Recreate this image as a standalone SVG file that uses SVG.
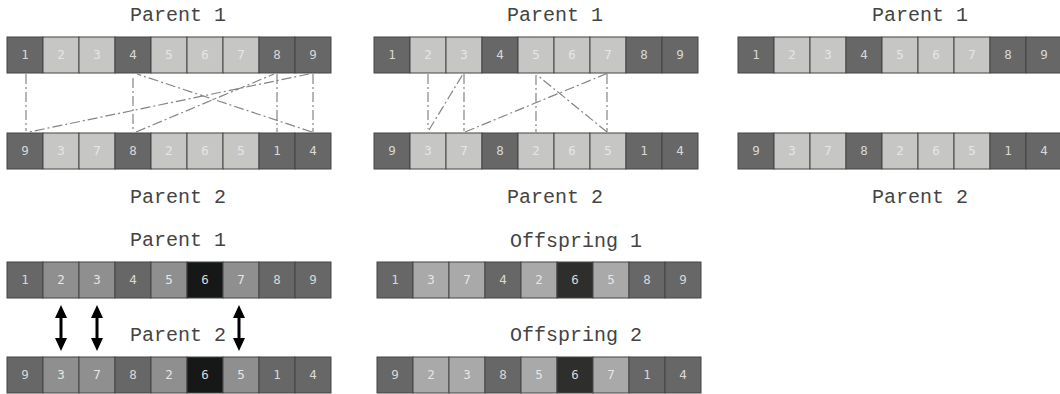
<svg xmlns="http://www.w3.org/2000/svg" width="1060" height="394" viewBox="0 0 1060 394">
<defs>
<style>
.t{font-family:"Liberation Mono","Courier New",monospace;font-size:20px;fill:#444;text-anchor:middle}
.n{font-family:"DejaVu Sans Mono",monospace;font-size:12.5px;text-anchor:middle}
.d{fill:#676767}.l{fill:#c6c7c5}.m{fill:#8f8f8f}.k{fill:#161817}.o{fill:#a9a9a9}.ok{fill:#2e2e2c}
.c rect{stroke:#444;stroke-width:1}
.nd{fill:#d8d8d8}.nl{fill:#e6e6e6}
.cn line{stroke:#858585;stroke-width:1.2;stroke-dasharray:10 3 2 3;fill:none}
.ar{fill:#000;stroke:none}
</style>
<path id="dbl" d="M0,-23 L6,-10 L1.5,-10 L1.5,10 L6,10 L0,23 L-6,10 L-1.5,10 L-1.5,-10 L-6,-10 z"/>
</defs>
<rect width="1060" height="394" fill="#fff"/>

<!-- Panel 1 -->
<g id="p1-parent1">
<text class="t" x="178" y="21">Parent 1</text>
<g class="c">
<rect class="d" x="7" y="37" width="36" height="36"/><rect class="l" x="43" y="37" width="36" height="36"/><rect class="l" x="79" y="37" width="36" height="36"/><rect class="d" x="115" y="37" width="36" height="36"/><rect class="l" x="151" y="37" width="36" height="36"/><rect class="l" x="187" y="37" width="36" height="36"/><rect class="l" x="223" y="37" width="36" height="36"/><rect class="d" x="259" y="37" width="36" height="36"/><rect class="d" x="295" y="37" width="36" height="36"/>
</g>
<text class="n nd" x="25" y="59">1</text><text class="n nl" x="61" y="59">2</text><text class="n nl" x="97" y="59">3</text><text class="n nd" x="133" y="59">4</text><text class="n nl" x="169" y="59">5</text><text class="n nl" x="205" y="59">6</text><text class="n nl" x="241" y="59">7</text><text class="n nd" x="277" y="59">8</text><text class="n nd" x="313" y="59">9</text>
</g>
<g id="p1-parent2">
<g class="c">
<rect class="d" x="7" y="133" width="36" height="36"/><rect class="l" x="43" y="133" width="36" height="36"/><rect class="l" x="79" y="133" width="36" height="36"/><rect class="d" x="115" y="133" width="36" height="36"/><rect class="l" x="151" y="133" width="36" height="36"/><rect class="l" x="187" y="133" width="36" height="36"/><rect class="l" x="223" y="133" width="36" height="36"/><rect class="d" x="259" y="133" width="36" height="36"/><rect class="d" x="295" y="133" width="36" height="36"/>
</g>
<text class="n nd" x="25" y="155">9</text><text class="n nl" x="61" y="155">3</text><text class="n nl" x="97" y="155">7</text><text class="n nd" x="133" y="155">8</text><text class="n nl" x="169" y="155">2</text><text class="n nl" x="205" y="155">6</text><text class="n nl" x="241" y="155">5</text><text class="n nd" x="277" y="155">1</text><text class="n nd" x="313" y="155">4</text>
<text class="t" x="178" y="203">Parent 2</text>
</g>

<!-- Panel 2 -->
<g id="p2-parent1">
<text class="t" x="555" y="21">Parent 1</text>
<g class="c">
<rect class="d" x="374" y="37" width="36" height="36"/><rect class="l" x="410" y="37" width="36" height="36"/><rect class="l" x="446" y="37" width="36" height="36"/><rect class="d" x="482" y="37" width="36" height="36"/><rect class="l" x="518" y="37" width="36" height="36"/><rect class="l" x="554" y="37" width="36" height="36"/><rect class="l" x="590" y="37" width="36" height="36"/><rect class="d" x="626" y="37" width="36" height="36"/><rect class="d" x="662" y="37" width="36" height="36"/>
</g>
<text class="n nd" x="392" y="59">1</text><text class="n nl" x="428" y="59">2</text><text class="n nl" x="464" y="59">3</text><text class="n nd" x="500" y="59">4</text><text class="n nl" x="536" y="59">5</text><text class="n nl" x="572" y="59">6</text><text class="n nl" x="608" y="59">7</text><text class="n nd" x="644" y="59">8</text><text class="n nd" x="680" y="59">9</text>
</g>
<g id="p2-parent2">
<g class="c">
<rect class="d" x="374" y="133" width="36" height="36"/><rect class="l" x="410" y="133" width="36" height="36"/><rect class="l" x="446" y="133" width="36" height="36"/><rect class="d" x="482" y="133" width="36" height="36"/><rect class="l" x="518" y="133" width="36" height="36"/><rect class="l" x="554" y="133" width="36" height="36"/><rect class="l" x="590" y="133" width="36" height="36"/><rect class="d" x="626" y="133" width="36" height="36"/><rect class="d" x="662" y="133" width="36" height="36"/>
</g>
<text class="n nd" x="392" y="155">9</text><text class="n nl" x="428" y="155">3</text><text class="n nl" x="464" y="155">7</text><text class="n nd" x="500" y="155">8</text><text class="n nl" x="536" y="155">2</text><text class="n nl" x="572" y="155">6</text><text class="n nl" x="608" y="155">5</text><text class="n nd" x="644" y="155">1</text><text class="n nd" x="680" y="155">4</text>
<text class="t" x="555" y="203">Parent 2</text>
</g>

<!-- Panel 3 -->
<g id="p3-parent1">
<text class="t" x="920" y="21">Parent 1</text>
<g class="c">
<rect class="d" x="738" y="37" width="36" height="36"/><rect class="l" x="774" y="37" width="36" height="36"/><rect class="l" x="810" y="37" width="36" height="36"/><rect class="d" x="846" y="37" width="36" height="36"/><rect class="l" x="882" y="37" width="36" height="36"/><rect class="l" x="918" y="37" width="36" height="36"/><rect class="l" x="954" y="37" width="36" height="36"/><rect class="d" x="990" y="37" width="36" height="36"/><rect class="d" x="1026" y="37" width="36" height="36"/>
</g>
<text class="n nd" x="756" y="59">1</text><text class="n nl" x="792" y="59">2</text><text class="n nl" x="828" y="59">3</text><text class="n nd" x="864" y="59">4</text><text class="n nl" x="900" y="59">5</text><text class="n nl" x="936" y="59">6</text><text class="n nl" x="972" y="59">7</text><text class="n nd" x="1008" y="59">8</text><text class="n nd" x="1044" y="59">9</text>
</g>
<g id="p3-parent2">
<g class="c">
<rect class="d" x="738" y="133" width="36" height="36"/><rect class="l" x="774" y="133" width="36" height="36"/><rect class="l" x="810" y="133" width="36" height="36"/><rect class="d" x="846" y="133" width="36" height="36"/><rect class="l" x="882" y="133" width="36" height="36"/><rect class="l" x="918" y="133" width="36" height="36"/><rect class="l" x="954" y="133" width="36" height="36"/><rect class="d" x="990" y="133" width="36" height="36"/><rect class="d" x="1026" y="133" width="36" height="36"/>
</g>
<text class="n nd" x="756" y="155">9</text><text class="n nl" x="792" y="155">3</text><text class="n nl" x="828" y="155">7</text><text class="n nd" x="864" y="155">8</text><text class="n nl" x="900" y="155">2</text><text class="n nl" x="936" y="155">6</text><text class="n nl" x="972" y="155">5</text><text class="n nd" x="1008" y="155">1</text><text class="n nd" x="1044" y="155">4</text>
<text class="t" x="920" y="203">Parent 2</text>
</g>

<!-- Bottom left -->
<g id="b1-parent1">
<text class="t" x="178" y="246">Parent 1</text>
<g class="c">
<rect class="d" x="7" y="262" width="36" height="36"/><rect class="m" x="43" y="262" width="36" height="36"/><rect class="m" x="79" y="262" width="36" height="36"/><rect class="d" x="115" y="262" width="36" height="36"/><rect class="m" x="151" y="262" width="36" height="36"/><rect class="k" x="187" y="262" width="36" height="36"/><rect class="m" x="223" y="262" width="36" height="36"/><rect class="d" x="259" y="262" width="36" height="36"/><rect class="d" x="295" y="262" width="36" height="36"/>
</g>
<text class="n nd" x="25" y="284">1</text><text class="n nl" x="61" y="284">2</text><text class="n nl" x="97" y="284">3</text><text class="n nd" x="133" y="284">4</text><text class="n nl" x="169" y="284">5</text><text class="n nd" x="205" y="284">6</text><text class="n nl" x="241" y="284">7</text><text class="n nd" x="277" y="284">8</text><text class="n nd" x="313" y="284">9</text>
</g>
<g id="b1-parent2">
<text class="t" x="178" y="341">Parent 2</text>
<g class="c">
<rect class="d" x="7" y="357" width="36" height="36"/><rect class="m" x="43" y="357" width="36" height="36"/><rect class="m" x="79" y="357" width="36" height="36"/><rect class="d" x="115" y="357" width="36" height="36"/><rect class="m" x="151" y="357" width="36" height="36"/><rect class="k" x="187" y="357" width="36" height="36"/><rect class="m" x="223" y="357" width="36" height="36"/><rect class="d" x="259" y="357" width="36" height="36"/><rect class="d" x="295" y="357" width="36" height="36"/>
</g>
<text class="n nd" x="25" y="379">9</text><text class="n nl" x="61" y="379">3</text><text class="n nl" x="97" y="379">7</text><text class="n nd" x="133" y="379">8</text><text class="n nl" x="169" y="379">2</text><text class="n nd" x="205" y="379">6</text><text class="n nl" x="241" y="379">5</text><text class="n nd" x="277" y="379">1</text><text class="n nd" x="313" y="379">4</text>
</g>

<!-- Offspring -->
<g id="offspring1">
<text class="t" x="576" y="247">Offspring 1</text>
<g class="c">
<rect class="d" x="377" y="262" width="36" height="36"/><rect class="o" x="413" y="262" width="36" height="36"/><rect class="o" x="449" y="262" width="36" height="36"/><rect class="d" x="485" y="262" width="36" height="36"/><rect class="o" x="521" y="262" width="36" height="36"/><rect class="ok" x="557" y="262" width="36" height="36"/><rect class="o" x="593" y="262" width="36" height="36"/><rect class="d" x="629" y="262" width="36" height="36"/><rect class="d" x="665" y="262" width="36" height="36"/>
</g>
<text class="n nd" x="395" y="284">1</text><text class="n nl" x="431" y="284">3</text><text class="n nl" x="467" y="284">7</text><text class="n nd" x="503" y="284">4</text><text class="n nl" x="539" y="284">2</text><text class="n nd" x="575" y="284">6</text><text class="n nl" x="611" y="284">5</text><text class="n nd" x="647" y="284">8</text><text class="n nd" x="683" y="284">9</text>
</g>
<g id="offspring2">
<text class="t" x="576" y="341">Offspring 2</text>
<g class="c">
<rect class="d" x="377" y="357" width="36" height="36"/><rect class="o" x="413" y="357" width="36" height="36"/><rect class="o" x="449" y="357" width="36" height="36"/><rect class="d" x="485" y="357" width="36" height="36"/><rect class="o" x="521" y="357" width="36" height="36"/><rect class="ok" x="557" y="357" width="36" height="36"/><rect class="o" x="593" y="357" width="36" height="36"/><rect class="d" x="629" y="357" width="36" height="36"/><rect class="d" x="665" y="357" width="36" height="36"/>
</g>
<text class="n nd" x="395" y="379">9</text><text class="n nl" x="431" y="379">2</text><text class="n nl" x="467" y="379">3</text><text class="n nd" x="503" y="379">8</text><text class="n nl" x="539" y="379">5</text><text class="n nd" x="575" y="379">6</text><text class="n nl" x="611" y="379">7</text><text class="n nd" x="647" y="379">1</text><text class="n nd" x="683" y="379">4</text>
</g>

<!-- Connectors -->
<g id="connectors">
<g class="cn">
<line x1="26" y1="74" x2="26" y2="131"/>
<line x1="309" y1="74" x2="29" y2="132"/>
<line x1="313" y1="74" x2="313" y2="132"/>
<line x1="312" y1="132" x2="137" y2="74"/>
<line x1="133" y1="78" x2="133" y2="132"/>
<line x1="136" y1="132" x2="274" y2="74"/>
<line x1="277" y1="74" x2="277" y2="132"/>

<line x1="428" y1="74" x2="428" y2="129"/>
<line x1="429" y1="130" x2="463" y2="74"/>
<line x1="464" y1="74" x2="464" y2="131"/>
<line x1="465" y1="132" x2="608" y2="73"/>
<line x1="607" y1="74" x2="607" y2="132"/>
<line x1="607" y1="132" x2="537" y2="75"/>
<line x1="536" y1="75" x2="536" y2="132"/>
</g>
<use href="#dbl" class="ar" x="61" y="328"/>
<use href="#dbl" class="ar" x="97" y="328"/>
<use href="#dbl" class="ar" x="239" y="328"/>
</g>
</svg>
